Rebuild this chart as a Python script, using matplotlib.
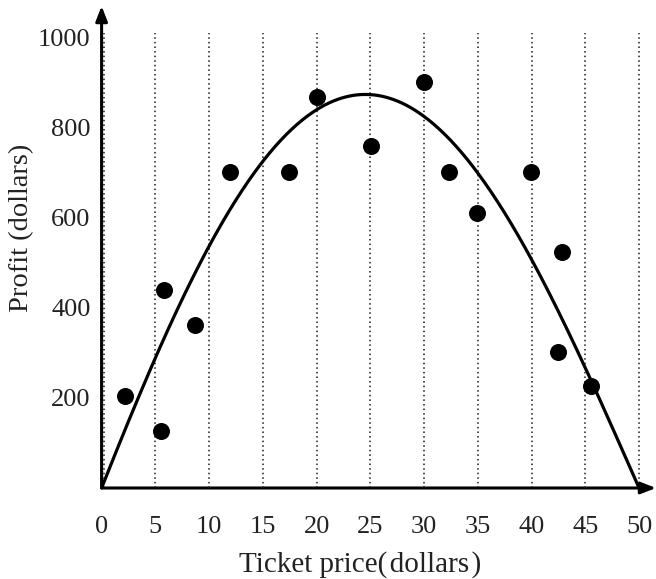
import numpy as np
import matplotlib
matplotlib.use("Agg")
import matplotlib.pyplot as plt

plt.rcParams['font.family'] = ['Liberation Serif', 'DejaVu Serif']

# Observed ticket prices (dollars) and profits (dollars)
price = [2.2, 5.5, 5.8, 8.7, 11.9, 17.4, 20.0, 25.1, 30.0, 32.3, 34.9, 39.9, 42.8, 42.5, 45.5]
profit = [204, 127, 440, 362, 702, 702, 869, 760, 902, 702, 611, 702, 524, 302, 227]

# Model curve values at selected prices (profit is zero at 0 and 50 dollars)
model_x = [5, 10, 15, 20, 25, 30, 35, 40, 45]
model_y = [302, 533, 718, 844, 871, 829, 707, 503, 262]
zero_lo, zero_hi = 0.0, 50.0

x_ticks = [0, 5, 10, 15, 20, 25, 30, 35, 40, 45, 50]
y_ticks = [200, 400, 600, 800, 1000]
grid_x = [0.2, 5, 10, 15, 20, 25, 30, 35, 40, 45, 50]

W, H = 656, 579
fig = plt.figure(figsize=(W / 100, H / 100), dpi=100)
x0_px, y0_px = 101.6, 488
px_per_x, px_per_y = 10.75, 0.45
xmax = (W - x0_px) / px_per_x
ymax = (y0_px - 6) / px_per_y
ax = fig.add_axes([x0_px / W, 1 - y0_px / H, 1 - x0_px / W, (y0_px - 6) / H])
ax.set_xlim(0, xmax)
ax.set_ylim(0, ymax)
for s in ax.spines.values():
    s.set_visible(False)

# dotted verticals
ax.vlines(grid_x, 0, 1012, colors='0.1', linestyles=(0, (1, 2.0)), linewidth=1.1, zorder=1)

# axes with arrow heads
arrow = dict(arrowstyle='-|>,head_length=0.9,head_width=0.35', color='black', lw=2.2,
             shrinkA=0, shrinkB=0)
ax.annotate('', xy=(xmax, 0), xytext=(0, 0), arrowprops=arrow, annotation_clip=False, zorder=4)
ax.annotate('', xy=(0, ymax), xytext=(0, 0), arrowprops=arrow, annotation_clip=False, zorder=4)

# smooth model: y = (x - lo)(hi - x)(c0 + c1 x + c2 x^2), least squares on the model values
mx = np.asarray(model_x, float)
my = np.asarray(model_y, float)
base = (mx - zero_lo) * (zero_hi - mx)
A = np.column_stack([base, base * mx, base * mx ** 2])
c, *_ = np.linalg.lstsq(A, my, rcond=None)
xs = np.linspace(zero_lo, zero_hi, 400)
bs = (xs - zero_lo) * (zero_hi - xs)
ys = bs * (c[0] + c[1] * xs + c[2] * xs ** 2)
ax.plot(xs, ys, color='black', lw=2.3, zorder=3, solid_capstyle='round')

# data points
ax.scatter(price, profit, s=150, color='black', zorder=5, linewidths=0)

ax.set_xticks(x_ticks)
ax.set_xticklabels([str(t) for t in x_ticks])
ax.set_yticks(y_ticks)
ax.set_yticklabels([str(t) for t in y_ticks])
ax.tick_params(length=0, labelsize=19, colors='#222222')
ax.tick_params(axis='x', pad=20)
ax.tick_params(axis='y', pad=8)

fig.text(360 / W, 1 - 572 / H, 'Ticket price(\u200adollars\u200a)', fontsize=21,
         color='#222222', ha='center', va='baseline')
fig.text(22 / W, 1 - 228 / H, 'Profit (dollars)', fontsize=20.5, color='#222222',
         rotation=90, ha='center', va='center')

fig.savefig('out.png', dpi=100)
